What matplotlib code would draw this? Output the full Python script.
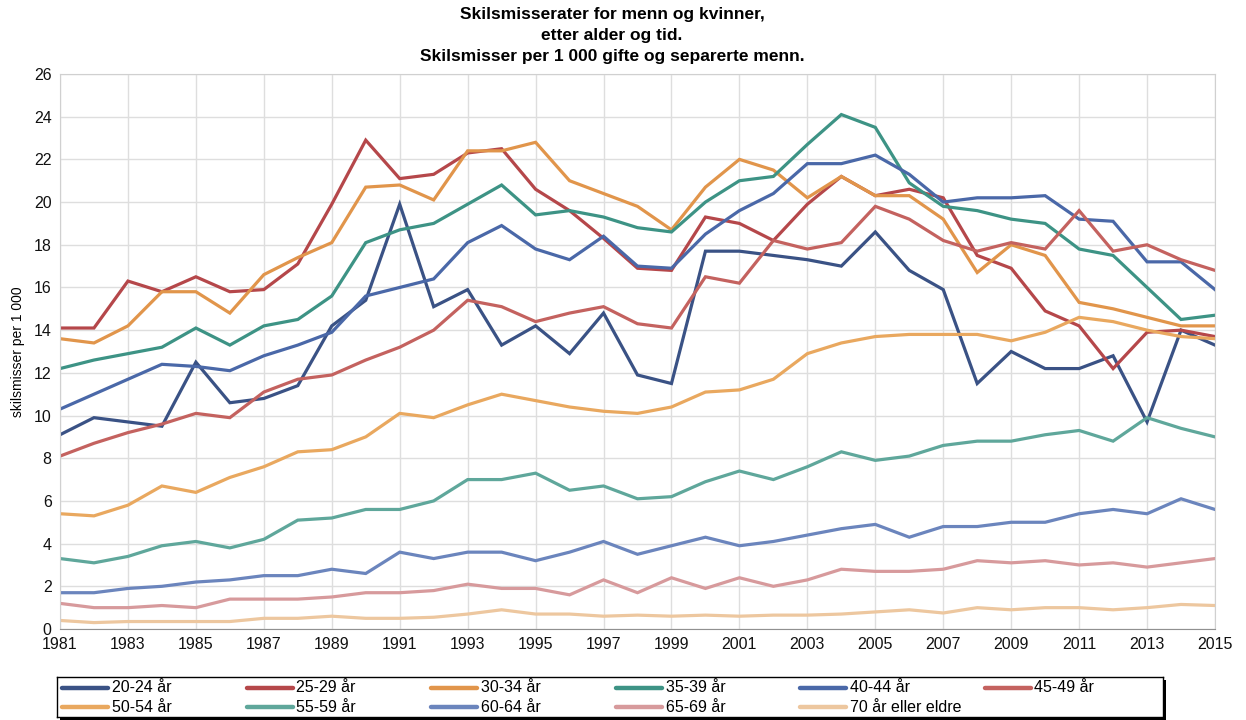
import numpy as np
import matplotlib
matplotlib.use("Agg")
from matplotlib import pyplot as plt
from matplotlib.patches import Rectangle

plt.rcParams['font.family'] = ['Liberation Sans', 'DejaVu Sans']

years = list(range(1981, 2016))

labels = ['20-24 år', '25-29 år', '30-34 år', '35-39 år', '40-44 år', '45-49 år',
          '50-54 år', '55-59 år', '60-64 år', '65-69 år', '70 år eller eldre']

a20 = [9.1, 9.9, 9.7, 9.5, 12.5, 10.6, 10.8, 11.4, 14.2, 15.4, 19.9, 15.1, 15.9, 13.3, 14.2, 12.9, 14.8, 11.9,
       11.5, 17.7, 17.7, 17.5, 17.3, 17.0, 18.6, 16.8, 15.9, 11.5, 13.0, 12.2, 12.2, 12.8, 9.7, 14.0, 13.3]
a25 = [14.1, 14.1, 16.3, 15.8, 16.5, 15.8, 15.9, 17.1, 19.9, 22.9, 21.1, 21.3, 22.3, 22.5, 20.6, 19.6, 18.3, 16.9,
       16.8, 19.3, 19.0, 18.2, 19.9, 21.2, 20.3, 20.6, 20.2, 17.5, 16.9, 14.9, 14.2, 12.2, 13.9, 14.0, 13.7]
a30 = [13.6, 13.4, 14.2, 15.8, 15.8, 14.8, 16.6, 17.4, 18.1, 20.7, 20.8, 20.1, 22.4, 22.4, 22.8, 21.0, 20.4, 19.8,
       18.7, 20.7, 22.0, 21.5, 20.2, 21.2, 20.3, 20.3, 19.2, 16.7, 18.0, 17.5, 15.3, 15.0, 14.6, 14.2, 14.2]
a35 = [12.2, 12.6, 12.9, 13.2, 14.1, 13.3, 14.2, 14.5, 15.6, 18.1, 18.7, 19.0, 19.9, 20.8, 19.4, 19.6, 19.3, 18.8,
       18.6, 20.0, 21.0, 21.2, 22.7, 24.1, 23.5, 20.9, 19.8, 19.6, 19.2, 19.0, 17.8, 17.5, 16.0, 14.5, 14.7]
a40 = [10.3, 11.0, 11.7, 12.4, 12.3, 12.1, 12.8, 13.3, 13.9, 15.6, 16.0, 16.4, 18.1, 18.9, 17.8, 17.3, 18.4, 17.0,
       16.9, 18.5, 19.6, 20.4, 21.8, 21.8, 22.2, 21.3, 20.0, 20.2, 20.2, 20.3, 19.2, 19.1, 17.2, 17.2, 15.9]
a45 = [8.1, 8.7, 9.2, 9.6, 10.1, 9.9, 11.1, 11.7, 11.9, 12.6, 13.2, 14.0, 15.4, 15.1, 14.4, 14.8, 15.1, 14.3,
       14.1, 16.5, 16.2, 18.2, 17.8, 18.1, 19.8, 19.2, 18.2, 17.7, 18.1, 17.8, 19.6, 17.7, 18.0, 17.3, 16.8]
a50 = [5.4, 5.3, 5.8, 6.7, 6.4, 7.1, 7.6, 8.3, 8.4, 9.0, 10.1, 9.9, 10.5, 11.0, 10.7, 10.4, 10.2, 10.1,
       10.4, 11.1, 11.2, 11.7, 12.9, 13.4, 13.7, 13.8, 13.8, 13.8, 13.5, 13.9, 14.6, 14.4, 14.0, 13.7, 13.6]
a55 = [3.3, 3.1, 3.4, 3.9, 4.1, 3.8, 4.2, 5.1, 5.2, 5.6, 5.6, 6.0, 7.0, 7.0, 7.3, 6.5, 6.7, 6.1,
       6.2, 6.9, 7.4, 7.0, 7.6, 8.3, 7.9, 8.1, 8.6, 8.8, 8.8, 9.1, 9.3, 8.8, 9.9, 9.4, 9.0]
a60 = [1.7, 1.7, 1.9, 2.0, 2.2, 2.3, 2.5, 2.5, 2.8, 2.6, 3.6, 3.3, 3.6, 3.6, 3.2, 3.6, 4.1, 3.5,
       3.9, 4.3, 3.9, 4.1, 4.4, 4.7, 4.9, 4.3, 4.8, 4.8, 5.0, 5.0, 5.4, 5.6, 5.4, 6.1, 5.6]
a65 = [1.2, 1.0, 1.0, 1.1, 1.0, 1.4, 1.4, 1.4, 1.5, 1.7, 1.7, 1.8, 2.1, 1.9, 1.9, 1.6, 2.3, 1.7,
       2.4, 1.9, 2.4, 2.0, 2.3, 2.8, 2.7, 2.7, 2.8, 3.2, 3.1, 3.2, 3.0, 3.1, 2.9, 3.1, 3.3]
a70 = [0.4, 0.3, 0.35, 0.35, 0.35, 0.35, 0.5, 0.5, 0.6, 0.5, 0.5, 0.55, 0.7, 0.9, 0.7, 0.7, 0.6, 0.65,
       0.6, 0.65, 0.6, 0.65, 0.65, 0.7, 0.8, 0.9, 0.75, 1.0, 0.9, 1.0, 1.0, 0.9, 1.0, 1.15, 1.1]

series = [a20, a25, a30, a35, a40, a45, a50, a55, a60, a65, a70]
colors = ['#3a5285', '#b5474a', '#e1954b', '#3d9385', '#4a68a8', '#c4625f',
          '#e9a85f', '#5fa79b', '#6b85bd', '#d79a9c', '#edc79f']

W, H = 1246, 720
fig = plt.figure(figsize=(W / 100, H / 100), dpi=100)

# plot area in pixels
x0, x1, y0, y1 = 60, 1215, 74, 629
ax = fig.add_axes([x0 / W, 1 - y1 / H, (x1 - x0) / W, (y1 - y0) / H])

for vals, c in zip(series, colors):
    ax.plot(years, vals, color=c, lw=2.3, solid_joinstyle='miter')

ax.set_xlim(1981, 2015)
ax.set_ylim(0, 26)
ax.set_xticks(range(1981, 2016, 2))
ax.set_yticks(range(0, 27, 2))
ax.grid(True, color='#dedede', lw=1)
ax.set_axisbelow(True)
ax.tick_params(length=0, labelsize=11.5, colors='#111111')
ax.tick_params(axis='y', pad=6)
ax.tick_params(axis='x', pad=6)
for s in ['top', 'right', 'left']:
    ax.spines[s].set_color('#d0d0d0')
ax.spines['bottom'].set_color('#909090')
ax.set_ylabel('skilsmisser per 1 000', fontsize=10, labelpad=6)

fig.text(612 / W, 1 - 7 / H, 'Skilsmisserater for menn og kvinner,\netter alder og tid.\n'
         'Skilsmisser per 1 000 gifte og separerte menn.',
         ha='center', va='top', fontsize=12.5, fontweight='bold', linespacing=1.48)

# legend box with shadow, laid out as a fixed grid
lx0, lx1, ly0, ly1 = 57, 1163, 677, 717
fig.add_artist(Rectangle(((lx0 + 3) / W, 1 - (ly1 + 3) / H), (lx1 - lx0) / W, (ly1 - ly0) / H,
                         transform=fig.transFigure, facecolor='black', edgecolor='none', zorder=0.5))
lax = fig.add_axes([lx0 / W, 1 - ly1 / H, (lx1 - lx0) / W, (ly1 - ly0) / H], zorder=1)
lax.set_xlim(0, lx1 - lx0)
lax.set_ylim(ly1 - ly0, 0)
lax.set_xticks([])
lax.set_yticks([])
for s in lax.spines.values():
    s.set_color('black')
    s.set_linewidth(1)
for i, (lab, c) in enumerate(zip(labels, colors)):
    col, row = i % 6, i // 6
    hx = 5 + 184.5 * col
    hy = 11 + 19 * row
    lax.plot([hx, hx + 46], [hy, hy], color=c, lw=3.2, solid_capstyle='round')
    lax.text(hx + 50, hy, lab, fontsize=11.5, va='center', ha='left')

fig.savefig('out.png', dpi=100)
